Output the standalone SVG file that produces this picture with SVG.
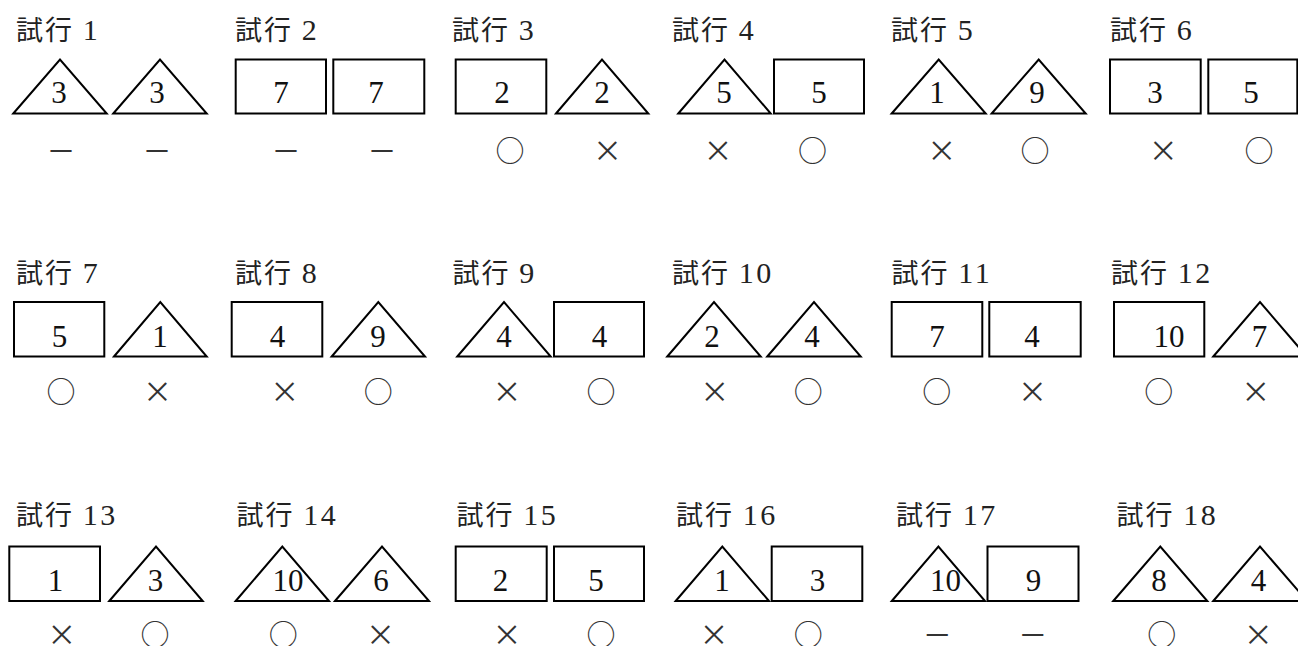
<svg xmlns="http://www.w3.org/2000/svg" width="1298" height="646" viewBox="0 0 1298 646">
<style>
.s{fill:none;stroke:#000;stroke-width:2;stroke-linejoin:miter}
.lbl{font-family:"Liberation Serif","Noto Sans CJK JP",serif;font-size:27px;letter-spacing:2px;fill:#222}
.lbl tspan{font-size:30px;letter-spacing:2.5px}
.num{font-family:"Liberation Serif",serif;font-size:31px;text-anchor:middle;fill:#111}
.num.st{text-anchor:start}
.sym{font-family:"Noto Sans CJK JP",sans-serif;font-size:29px;text-anchor:middle;fill:#333}
</style>
<rect width="1298" height="646" fill="#fff"/>
<g id="trial-1">
<text class="lbl" x="16" y="39.5">試行 <tspan>1</tspan></text>
<polygon class="s" points="13.3,113.5 60,59.5 106.7,113.5"/>
<polygon class="s" points="113.3,113.5 160,59.5 206.7,113.5"/>
<text class="num" x="59" y="103">3</text><text class="num" x="157" y="103">3</text>
<text class="sym" x="61" y="162">－</text><text class="sym" x="157" y="162">－</text>
</g>
<g id="trial-2">
<text class="lbl" x="235" y="39.5">試行 <tspan>2</tspan></text>
<rect class="s" x="235.7" y="59.5" width="90.3" height="54"/>
<rect class="s" x="333.3" y="59.5" width="91" height="54"/>
<text class="num" x="281" y="103">7</text><text class="num" x="376" y="103">7</text>
<text class="sym" x="286" y="162">－</text><text class="sym" x="382" y="162">－</text>
</g>
<g id="trial-3">
<text class="lbl" x="452" y="39.5">試行 <tspan>3</tspan></text>
<rect class="s" x="455.7" y="59.5" width="90.6" height="54"/>
<polygon class="s" points="556,113.5 602,59.5 648.3,113.5"/>
<text class="num" x="502" y="103">2</text><text class="num" x="602" y="103">2</text>
<text class="sym" x="510" y="162">○</text><text class="sym" x="607.5" y="162">×</text>
</g>
<g id="trial-4">
<text class="lbl" x="672" y="39.5">試行 <tspan>4</tspan></text>
<polygon class="s" points="678.3,113.5 724.5,59.5 770.7,113.5"/>
<rect class="s" x="774" y="59.5" width="90" height="54"/>
<text class="num" x="724" y="103">5</text><text class="num" x="819" y="103">5</text>
<text class="sym" x="718" y="162">×</text><text class="sym" x="812.5" y="162">○</text>
</g>
<g id="trial-5">
<text class="lbl" x="891" y="39.5">試行 <tspan>5</tspan></text>
<polygon class="s" points="891.7,113.5 938.7,59.5 985.7,113.5"/>
<polygon class="s" points="991.7,113.5 1038.7,59.5 1085.7,113.5"/>
<text class="num" x="937" y="103">1</text><text class="num" x="1037" y="103">9</text>
<text class="sym" x="941.7" y="162">×</text><text class="sym" x="1035" y="162">○</text>
</g>
<g id="trial-6">
<text class="lbl" x="1110" y="39.5">試行 <tspan>6</tspan></text>
<rect class="s" x="1110" y="59.5" width="90.7" height="54"/>
<rect class="s" x="1208.3" y="59.5" width="89" height="54"/>
<text class="num" x="1155" y="103">3</text><text class="num" x="1251" y="103">5</text>
<text class="sym" x="1163.3" y="162">×</text><text class="sym" x="1259" y="162">○</text>
</g>
<g id="trial-7">
<text class="lbl" x="16" y="283">試行 <tspan>7</tspan></text>
<rect class="s" x="14" y="302" width="90.3" height="54.5"/>
<polygon class="s" points="114,356.5 160.3,302 206.7,356.5"/>
<text class="num" x="59.5" y="346.5">5</text><text class="num" x="160" y="346.5">1</text>
<text class="sym" x="61" y="403">○</text><text class="sym" x="157.5" y="403">×</text>
</g>
<g id="trial-8">
<text class="lbl" x="235" y="283">試行 <tspan>8</tspan></text>
<rect class="s" x="231.7" y="302" width="90.6" height="54.5"/>
<polygon class="s" points="331.7,356.5 378.3,302 425,356.5"/>
<text class="num" x="277.5" y="346.5">4</text><text class="num" x="378" y="346.5">9</text>
<text class="sym" x="284.7" y="403">×</text><text class="sym" x="378.3" y="403">○</text>
</g>
<g id="trial-9">
<text class="lbl" x="452.5" y="283">試行 <tspan>9</tspan></text>
<polygon class="s" points="457.3,356.5 504,302 550.7,356.5"/>
<rect class="s" x="554" y="302" width="90" height="54.5"/>
<text class="num" x="504" y="346.5">4</text><text class="num" x="599.5" y="346.5">4</text>
<text class="sym" x="507" y="403">×</text><text class="sym" x="601" y="403">○</text>
</g>
<g id="trial-10">
<text class="lbl" x="672" y="283">試行 <tspan>10</tspan></text>
<polygon class="s" points="667.3,356.5 714,302 760.7,356.5"/>
<polygon class="s" points="767.3,356.5 814,302 860.7,356.5"/>
<text class="num" x="712" y="346.5">2</text><text class="num" x="812" y="346.5">4</text>
<text class="sym" x="714.7" y="403">×</text><text class="sym" x="808.3" y="403">○</text>
</g>
<g id="trial-11">
<text class="lbl" x="891.5" y="283">試行 <tspan>11</tspan></text>
<rect class="s" x="891.7" y="302" width="90.6" height="54.5"/>
<rect class="s" x="989.3" y="302" width="91.4" height="54.5"/>
<text class="num" x="937" y="346.5">7</text><text class="num" x="1032" y="346.5">4</text>
<text class="sym" x="936.7" y="403">○</text><text class="sym" x="1032.5" y="403">×</text>
</g>
<g id="trial-12">
<text class="lbl" x="1111" y="283">試行 <tspan>12</tspan></text>
<rect class="s" x="1114" y="302" width="90.3" height="54.5"/>
<polygon class="s" points="1213.3,356.5 1260,302 1306.7,356.5"/>
<text class="num st" x="1153.5" y="346.5">10</text><text class="num" x="1259.5" y="346.5">7</text>
<text class="sym" x="1158.7" y="403">○</text><text class="sym" x="1255.8" y="403">×</text>
</g>
<g id="trial-13">
<text class="lbl" x="16" y="525">試行 <tspan>13</tspan></text>
<rect class="s" x="9.3" y="546.5" width="90.7" height="54.5"/>
<polygon class="s" points="109.3,601 156,546.5 202.7,601"/>
<text class="num" x="55.5" y="590.5">1</text><text class="num" x="155.5" y="590.5">3</text>
<text class="sym" x="61.7" y="646">×</text><text class="sym" x="155" y="646">○</text>
</g>
<g id="trial-14">
<text class="lbl" x="236.5" y="525">試行 <tspan>14</tspan></text>
<polygon class="s" points="235.7,601 282.3,546.5 329,601"/>
<polygon class="s" points="335,601 382,546.5 429,601"/>
<text class="num st" x="272.5" y="590.5">10</text><text class="num" x="381" y="590.5">6</text>
<text class="sym" x="283.3" y="646">○</text><text class="sym" x="380.5" y="646">×</text>
</g>
<g id="trial-15">
<text class="lbl" x="456.5" y="525">試行 <tspan>15</tspan></text>
<rect class="s" x="455.7" y="546.5" width="91" height="54.5"/>
<rect class="s" x="554" y="546.5" width="90" height="54.5"/>
<text class="num" x="500.5" y="590.5">2</text><text class="num" x="596" y="590.5">5</text>
<text class="sym" x="507" y="646">×</text><text class="sym" x="601" y="646">○</text>
</g>
<g id="trial-16">
<text class="lbl" x="676" y="525">試行 <tspan>16</tspan></text>
<polygon class="s" points="675.7,601 722.3,546.5 769,601"/>
<rect class="s" x="771.7" y="546.5" width="90.6" height="54.5"/>
<text class="num" x="722" y="590.5">1</text><text class="num" x="817.5" y="590.5">3</text>
<text class="sym" x="714" y="646">×</text><text class="sym" x="808.3" y="646">○</text>
</g>
<g id="trial-17">
<text class="lbl" x="896" y="525">試行 <tspan>17</tspan></text>
<polygon class="s" points="891.8,601 938.4,546.5 985,601"/>
<rect class="s" x="987.5" y="546.5" width="91" height="54.5"/>
<text class="num st" x="930" y="590.5">10</text><text class="num" x="1033.5" y="590.5">9</text>
<text class="sym" x="937.3" y="646">－</text><text class="sym" x="1032.8" y="646">－</text>
</g>
<g id="trial-18">
<text class="lbl" x="1116.5" y="525">試行 <tspan>18</tspan></text>
<polygon class="s" points="1113.3,601 1160.3,546.5 1207.3,601"/>
<polygon class="s" points="1213.3,601 1260,546.5 1307,601"/>
<text class="num" x="1159" y="590.5">8</text><text class="num" x="1258.5" y="590.5">4</text>
<text class="sym" x="1161.7" y="646">○</text><text class="sym" x="1258.3" y="646">×</text>
</g>
</svg>
